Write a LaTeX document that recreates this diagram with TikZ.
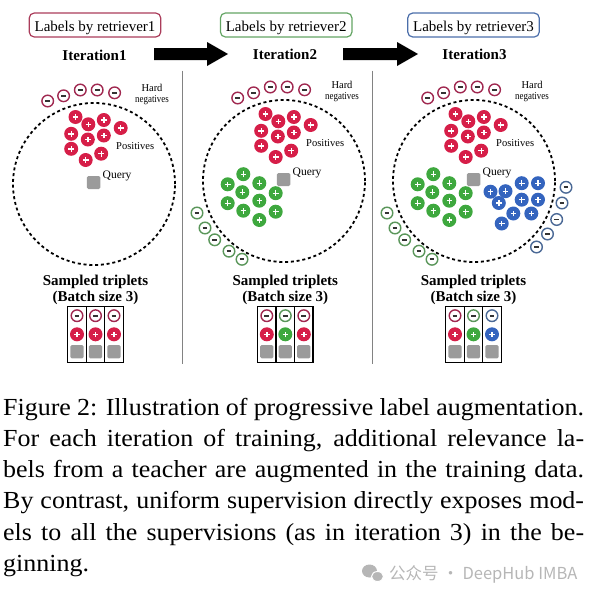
\documentclass[tikz,border=0pt]{standalone}
\usepackage{fontspec}
\setmainfont{Liberation Serif}
\newfontfamily\wmfont{Noto Sans CJK SC}
\usepackage{graphicx}
\usetikzlibrary{calc}
\definecolor{rpos}{RGB}{214,30,72}
\definecolor{rneg}{RGB}{160,40,80}
\definecolor{gpos}{RGB}{62,168,62}
\definecolor{gneg}{RGB}{90,150,90}
\definecolor{bpos}{RGB}{52,100,190}
\definecolor{bneg}{RGB}{75,105,150}
\definecolor{rbox}{RGB}{170,60,90}
\definecolor{gbox}{RGB}{100,165,100}
\definecolor{bbox}{RGB}{75,110,170}
\definecolor{qgray}{RGB}{155,155,155}
\definecolor{sepgray}{RGB}{130,130,130}
\definecolor{wmgray}{RGB}{182,182,182}
\tikzset{
  plusdot/.style={circle, inner sep=0pt, minimum size=14pt, fill=#1,
    path picture={\draw[white, line width=1.4pt]
      ([xshift=-2.8pt]path picture bounding box.center) -- ([xshift=2.8pt]path picture bounding box.center)
      ([yshift=-2.8pt]path picture bounding box.center) -- ([yshift=2.8pt]path picture bounding box.center);}},
  minusring/.style={circle, inner sep=0pt, minimum size=11.6pt, draw=#1, line width=1.4pt, fill=white,
    path picture={\draw[black!80, line width=1.9pt]
      ([xshift=-2.4pt]path picture bounding box.center) -- ([xshift=2.4pt]path picture bounding box.center);}},
  sqq/.style={rectangle, fill=qgray, minimum width=13.5pt, minimum height=13pt, inner sep=0pt, rounded corners=1.5pt},
  dcirc/.style={circle, draw=black, line width=1.8pt, dash pattern=on 3pt off 2.8pt, minimum size=162pt, inner sep=0pt},
  lbl/.style={inner sep=0pt, font=\fontsize{10.5}{11.7}\selectfont},
  qlbl/.style={inner sep=0pt, font=\fontsize{11.5}{13}\selectfont},
  lbox/.style={draw=#1, line width=1.2pt, rounded corners=5pt, minimum width=131.5pt, minimum height=24pt,
    inner sep=0pt, text height=15.3pt, text depth=3.3pt, font=\fontsize{15}{18}\selectfont},
  ititle/.style={inner sep=0pt, font=\bfseries\fontsize{15}{18}\selectfont},
  samp/.style={inner sep=0pt, align=center, font=\bfseries\fontsize{15}{16.5}\selectfont},
  tcol/.style={rectangle, draw=black, line width=1.3pt, minimum width=18.5pt, minimum height=55.6pt, inner sep=0pt},
  sepline/.style={draw=sepgray, line width=0.9pt},
}
\begin{document}
\begin{tikzpicture}[x=1pt,y=-1pt]
\useasboundingbox (0,0) rectangle (594,597);

% separators
\coordinate (s1t) at (182,70.5); \coordinate (s1b) at (182,363.5);
\coordinate (s2t) at (372.5,70.5); \coordinate (s2b) at (372.5,363.5);
\draw[sepline] (s1t) -- (s1b);
\draw[sepline] (s2t) -- (s2b);

% label boxes
\node[lbox=rbox, anchor=base] (lb1) at (95,31) {Labels by retriever1};
\node[lbox=gbox, anchor=base] (lb2) at (286.2,31) {Labels by retriever2};
\node[lbox=bbox, anchor=base] (lb3) at (473.5,31) {Labels by retriever3};

% titles
\node[ititle, anchor=base] (it1) at (94.5,60) {Iteration1};
\node[ititle, anchor=base] (it2) at (285,59.5) {Iteration2};
\node[ititle, anchor=base] (it3) at (474.5,59.5) {Iteration3};

% block arrows
\coordinate (a1s) at (154,54); \coordinate (a1e) at (228,54);
\fill (a1s) ++(0,-6) -- ++(53,0) -- ++(0,-6) -- (a1e) -- ++(-21,12) -- ++(0,-6) -- ++(-53,0) -- cycle;
\coordinate (a2s) at (343,54); \coordinate (a2e) at (418,54);
\fill (a2s) ++(0,-6) -- ++(54,0) -- ++(0,-6) -- (a2e) -- ++(-21,12) -- ++(0,-6) -- ++(-54,0) -- cycle;

% panels
\foreach \p/\dx/\dy in {1/0/0, 2/190/-3, 3/380/-3} {
  \begin{scope}[shift={(\dx,\dy)}]
    \node[dcirc] (circ\p) at (94,184) {};
    \foreach \x/\y [count=\i] in {47.7/101,63.6/95.8,80.3/90,97.2/90,114.6/92.8}
      \node[minusring=rneg] (rn\p-\i) at (\x,\y) {};
    \foreach \x/\y [count=\i] in {75.5/117,88.3/124.3,103.8/120,120.7/128,71.2/133.8,87.8/139.5,103.8/135.5,71.2/148.8,101.2/153.7,85.7/160}
      \node[plusdot=rpos] (rp\p-\i) at (\x,\y) {};
    \node[sqq] (q\p) at (93.7,182.5) {};
    \node[qlbl, anchor=base west] (ql\p) at (102.5,178.6) {Query};
    \node[lbl, anchor=base west] (pl\p) at (116,149) {Positives};
    \node[lbl, align=center] (hl\p) at (152,94.4) {Hard\\\scalebox{0.85}[1]{negatives}};
  \end{scope}
}
\foreach \p/\dx/\dy in {2/190/-3, 3/380/-3} {
  \begin{scope}[shift={(\dx,\dy)}]
    \foreach \x/\y [count=\i] in {53.3/177.2,37.7/187.3,69.3/186.2,52.3/195.2,85.7/196.2,37.7/206.2,69.3/203.7,53.3/213.7,85.7/214.7,69.3/223}
      \node[plusdot=gpos] (gp\p-\i) at (\x,\y) {};
    \foreach \x/\y [count=\i] in {7/216,15/231,24.7/242.8,39/254.2,52/262.3}
      \node[minusring=gneg] (gn\p-\i) at (\x,\y) {};
  \end{scope}
}
\begin{scope}[shift={(380,-3)}]
  \foreach \x/\y [count=\i] in {141.7/186.2,158/186.2,110.5/194.7,125.5/194.2,141.7/202.7,158/202.7,118.8/206,133.3/216.5,151.3/216.5,121.7/226.5}
    \node[plusdot=bpos] (bp-\i) at (\x,\y) {};
  \foreach \x/\y [count=\i] in {186/190.3,182/206,176.7/222.5,167.5/237,156.5/250}
    \node[minusring=bneg] (bn-\i) at (\x,\y) {};
\end{scope}

% sampled triplets
\foreach \p/\cx/\ca/\cb/\cc in {1/95.5/r/r/r, 2/285.3/r/g/r, 3/473.5/r/g/b} {
  \node[samp] (st\p) at (\cx,290) {Sampled triplets\\(Batch size 3)};
  \begin{scope}[shift={(\cx,0)}]
    \foreach \cl/\xx [count=\j] in {\ca/-18.5,\cb/0,\cc/18.5} {
      \node[tcol] (col\p-\j) at (\xx,334.5) {};
      \node[minusring=\cl neg] (tn\p-\j) at (\xx,315.7) {};
      \node[plusdot=\cl pos] (tp\p-\j) at (\xx,334.3) {};
      \node[sqq, minimum width=13.3pt, minimum height=13.3pt] (tq\p-\j) at (\xx,351.7) {};
    }
  \end{scope}
}

% caption
\node[anchor=base west, inner sep=0pt] (caption) at (3,415) {\scalebox{1.06}[1]{\parbox[t]{548pt}{\fontsize{24.5}{31.3}\selectfont
\makebox[548pt][s]{Figure 2: Illustration of progressive label augmentation.}\\
\makebox[548pt][s]{For each iteration of training, additional relevance la-}\\
\makebox[548pt][s]{bels from a teacher are augmented in the training data.}\\
\makebox[548pt][s]{By contrast, uniform supervision directly exposes mod-}\\
\makebox[548pt][s]{els to all the supervisions (as in iteration 3) in the be-}\\
ginning.}}};

% watermark
\fill[wmgray] (369.5,571) ellipse (7.5 and 6.5);
\filldraw[fill=wmgray, draw=white, line width=1pt] (377.5,576.5) ellipse (6 and 5);
\node[anchor=base west, inner sep=0pt, text=wmgray, font=\wmfont\fontsize{16.5}{18}\selectfont] (wm) at (389,579) {公众号 · DeepHub IMBA};
\end{tikzpicture}
\end{document}
